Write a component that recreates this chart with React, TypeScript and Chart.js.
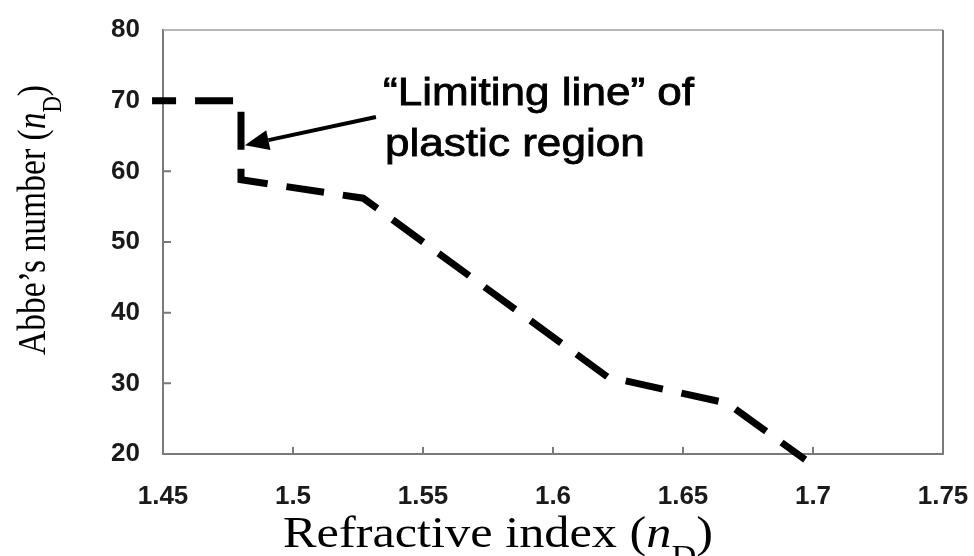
import React, { useEffect, useRef } from 'react';
import { Chart, registerables } from 'chart.js';

Chart.register(...registerables);

// Limiting line of the plastic region: refractive index vs Abbe's number
const refractiveIndex = [1.4458, 1.48, 1.48, 1.527, 1.621, 1.667, 1.697];
const abbeNumber = [70, 70, 58.8, 56.2, 30.9, 27.2, 19.2];

const xTickValues = [1.45, 1.5, 1.55, 1.6, 1.65, 1.7, 1.75];
const xTickLabels = ['1.45', '1.5', '1.55', '1.6', '1.65', '1.7', '1.75'];
const yTickValues = [20, 30, 40, 50, 60, 70, 80];
const yTickLabels = ['20', '30', '40', '50', '60', '70', '80'];

const annotationLines = ['\u201CLimiting line\u201D of', 'plastic region'];
const arrowTail = { x: 1.5319, y: 67.7 };
const arrowTip = { x: 1.4815, y: 63.7 };

const SANS = '"Liberation Sans", Arial, Helvetica, sans-serif';
const SERIF = '"Liberation Serif", "Times New Roman", Times, serif';
const TEXT_STRETCH = 1.16;

type Part = { text: string; font: string; dy?: number };

function richWidth(ctx: CanvasRenderingContext2D, parts: Part[]) {
  let w = 0;
  for (const p of parts) {
    ctx.font = p.font;
    w += ctx.measureText(p.text).width;
  }
  return w;
}

function drawRich(ctx: CanvasRenderingContext2D, parts: Part[]) {
  let x = 0;
  for (const p of parts) {
    ctx.font = p.font;
    ctx.fillText(p.text, x, p.dy || 0);
    x += ctx.measureText(p.text).width;
  }
}

function titleParts(main: string, size: number): Part[] {
  const sub = Math.round(size * 0.68);
  return [
    { text: main + ' (', font: `${size}px ${SERIF}` },
    { text: 'n', font: `italic ${size}px ${SERIF}` },
    { text: 'D', font: `${sub}px ${SERIF}`, dy: size * 0.4 },
    { text: ')', font: `${size}px ${SERIF}` },
  ];
}

const decorPlugin = {
  id: 'decor',
  beforeDatasetsDraw(chart: any) {
    const { ctx, chartArea: a, scales } = chart;
    const xs = scales.x;
    const ys = scales.y;
    ctx.save();
    // frame: top and right edges
    ctx.strokeStyle = '#a0a0a0';
    ctx.lineWidth = 1.5;
    ctx.beginPath();
    ctx.moveTo(a.left, a.top);
    ctx.lineTo(a.right, a.top);
    ctx.stroke();
    ctx.strokeStyle = '#7a7a7a';
    ctx.lineWidth = 2;
    ctx.beginPath();
    ctx.moveTo(a.right, a.top);
    ctx.lineTo(a.right, a.bottom);
    ctx.stroke();
    // inward tick marks
    ctx.beginPath();
    for (const v of xTickValues.slice(1, -1)) {
      const px = xs.getPixelForValue(v);
      ctx.moveTo(px, a.bottom);
      ctx.lineTo(px, a.bottom - 7);
    }
    for (const v of yTickValues.slice(1, -1)) {
      const py = ys.getPixelForValue(v);
      ctx.moveTo(a.left, py);
      ctx.lineTo(a.left + 8, py);
    }
    ctx.stroke();
    ctx.restore();
  },
  afterDraw(chart: any) {
    const { ctx, chartArea: a, scales } = chart;
    const xs = scales.x;
    const ys = scales.y;
    ctx.save();
    ctx.fillStyle = '#000';
    ctx.strokeStyle = '#000';

    // arrow pointing at the limiting line
    const tx = xs.getPixelForValue(arrowTail.x);
    const ty = ys.getPixelForValue(arrowTail.y);
    const hx = xs.getPixelForValue(arrowTip.x);
    const hy = ys.getPixelForValue(arrowTip.y);
    const ang = Math.atan2(hy - ty, hx - tx);
    const headLen = 24;
    const headHalf = 10;
    const bx = hx - headLen * Math.cos(ang);
    const by = hy - headLen * Math.sin(ang);
    ctx.lineWidth = 4;
    ctx.beginPath();
    ctx.moveTo(tx, ty);
    ctx.lineTo(bx, by);
    ctx.stroke();
    ctx.beginPath();
    ctx.moveTo(hx, hy);
    ctx.lineTo(bx + headHalf * Math.sin(ang), by - headHalf * Math.cos(ang));
    ctx.lineTo(bx - headHalf * Math.sin(ang), by + headHalf * Math.cos(ang));
    ctx.closePath();
    ctx.fill();

    // annotation text (lightly outlined for a heavier stroke)
    ctx.textBaseline = 'alphabetic';
    ctx.textAlign = 'left';
    ctx.font = `38px ${SANS}`;
    ctx.lineWidth = 0.8;
    const lineX = [a.left + 220, a.left + 222];
    const lineY = [a.top + 75, a.top + 126];
    annotationLines.forEach((t, i) => {
      ctx.save();
      ctx.translate(lineX[i], lineY[i]);
      ctx.scale(TEXT_STRETCH, 1);
      ctx.fillText(t, 0, 0);
      ctx.strokeText(t, 0, 0);
      ctx.restore();
    });

    // x axis title
    const xParts = titleParts('Refractive index', 44);
    const xw = richWidth(ctx, xParts);
    ctx.save();
    ctx.translate(283, 547);
    ctx.scale(430 / xw, 1);
    drawRich(ctx, xParts);
    ctx.restore();

    // y axis title
    const yParts = titleParts('Abbe\u2019s number', 34);
    const yw = richWidth(ctx, yParts);
    ctx.save();
    ctx.translate(45, 355);
    ctx.scale(TEXT_STRETCH, 1);
    ctx.rotate(-Math.PI / 2);
    ctx.scale(270 / yw, 1);
    drawRich(ctx, yParts);
    ctx.restore();

    ctx.restore();
  },
};

export default function App() {
  const canvasRef = useRef<HTMLCanvasElement | null>(null);

  useEffect(() => {
    const canvas = canvasRef.current;
    if (!canvas) return;
    const tickFont = { family: SANS, size: 26, weight: 'bold' as const };
    const chart = new Chart(canvas, {
      type: 'scatter',
      data: {
        datasets: [
          {
            data: refractiveIndex.map((x, i) => ({ x, y: abbeNumber[i] })),
            showLine: true,
            borderColor: '#000',
            borderWidth: 7,
            borderDash: [38, 19],
            borderDashOffset: 14,
            borderCapStyle: 'butt',
            borderJoinStyle: 'miter',
            pointRadius: 0,
            tension: 0,
            clip: false,
          } as any,
        ],
      },
      options: {
        responsive: false,
        animation: false,
        events: [],
        layout: { padding: { top: 30, right: 31, left: 0, bottom: 0 } },
        plugins: {
          legend: { display: false },
          tooltip: { enabled: false },
          title: { display: false },
        },
        scales: {
          x: {
            type: 'linear',
            min: 1.45,
            max: 1.75,
            afterBuildTicks: (s: any) => {
              s.ticks = xTickValues.map((v) => ({ value: v }));
            },
            afterFit: (s: any) => {
              s.height = 102;
              s.paddingLeft = 0;
              s.paddingRight = 0;
            },
            ticks: {
              callback: (_v: any, i: number) => xTickLabels[i],
              font: tickFont,
              color: '#1a1a1a',
              padding: 27,
              maxRotation: 0,
              autoSkip: false,
            },
            grid: { display: false, drawTicks: false, tickLength: 0 },
            border: { display: true, color: '#7a7a7a', width: 2 },
          },
          y: {
            type: 'linear',
            min: 20,
            max: 80,
            afterBuildTicks: (s: any) => {
              s.ticks = yTickValues.map((v) => ({ value: v }));
            },
            afterFit: (s: any) => {
              s.width = 163;
              s.paddingTop = 0;
              s.paddingBottom = 0;
            },
            ticks: {
              callback: (_v: any, i: number) => yTickLabels[i],
              font: tickFont,
              color: '#1a1a1a',
              padding: 23,
              autoSkip: false,
            },
            grid: { display: false, drawTicks: false, tickLength: 0 },
            border: { display: true, color: '#7a7a7a', width: 2 },
          },
        },
      },
      plugins: [decorPlugin],
    });
    return () => chart.destroy();
  }, []);

  return (
    <div style={{ position: 'absolute', left: 0, top: 0, width: 974, height: 556, background: '#fff' }}>
      <canvas ref={canvasRef} width={974} height={556} style={{ display: 'block' }} />
    </div>
  );
}
